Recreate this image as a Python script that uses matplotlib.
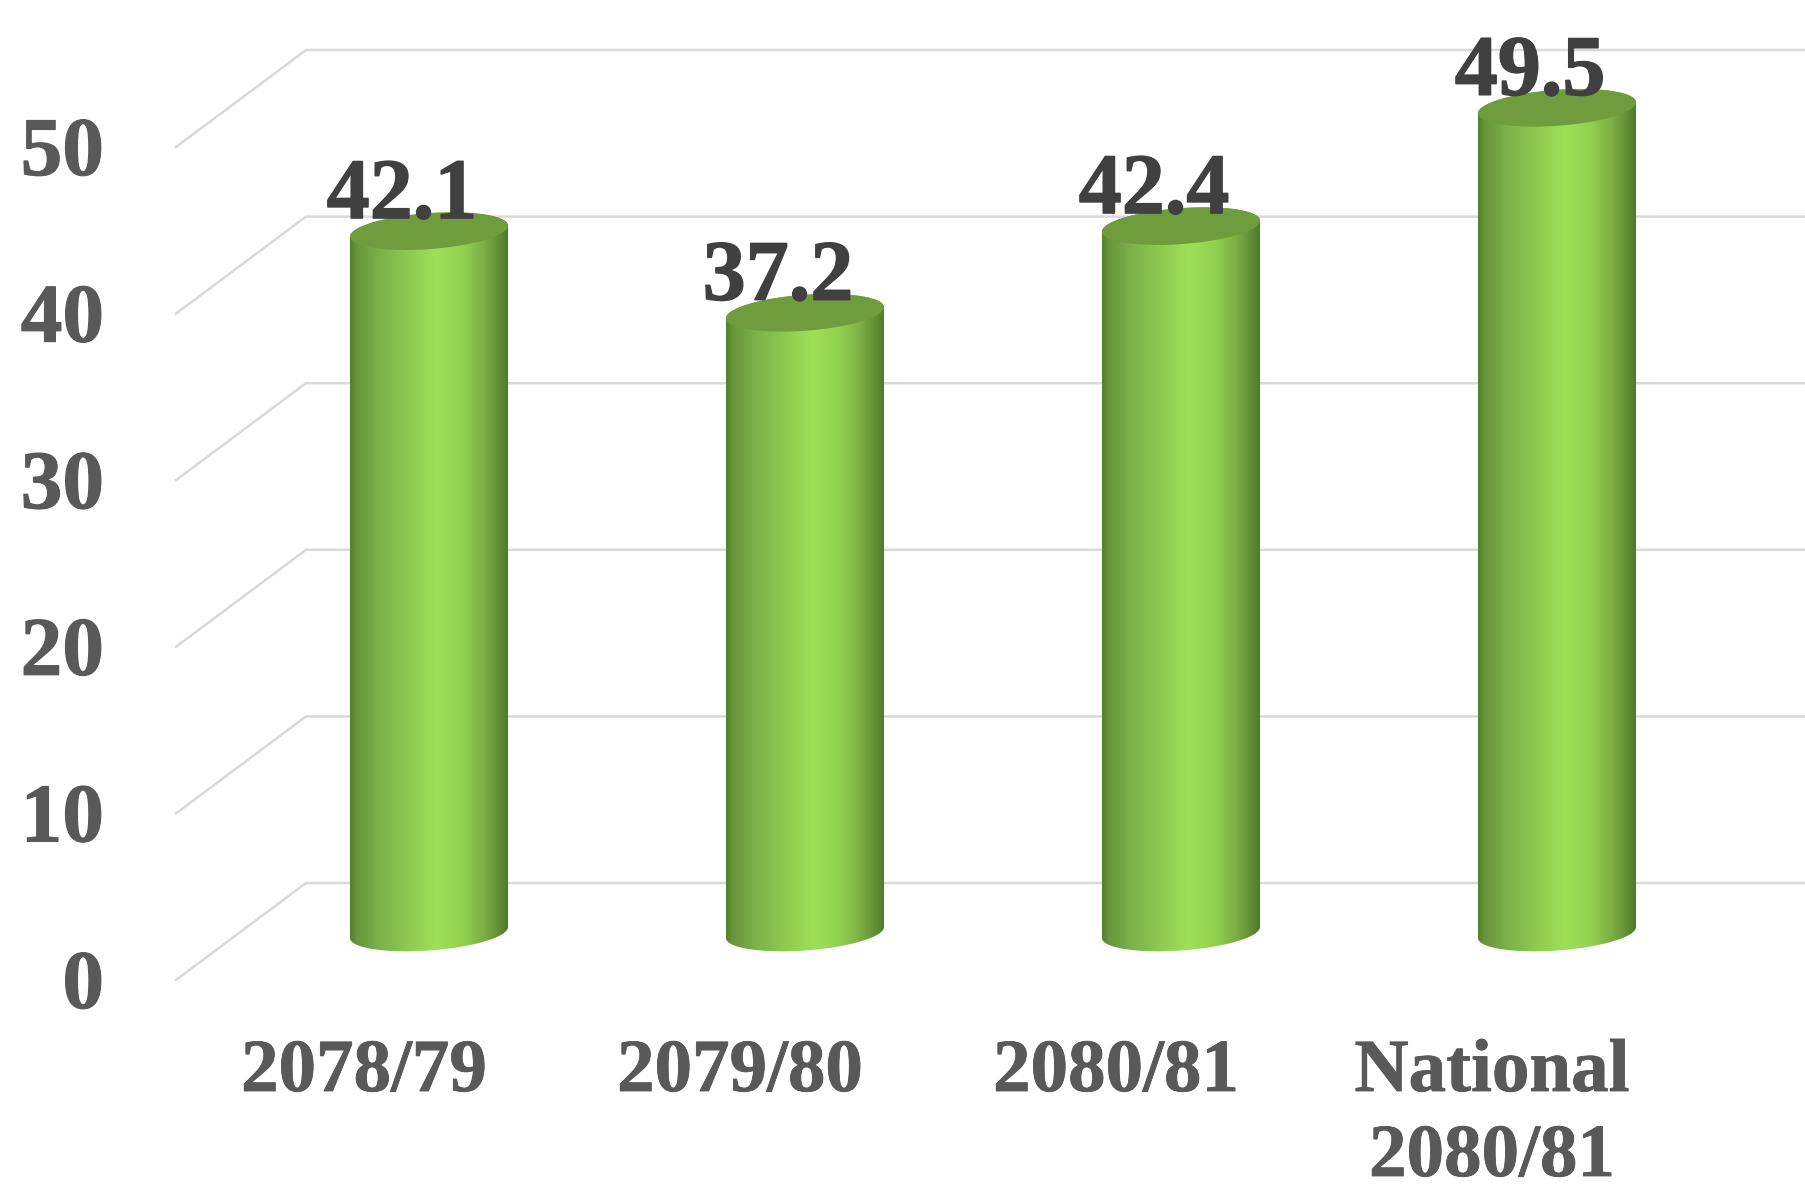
import numpy as np
import matplotlib
matplotlib.use("Agg")
import matplotlib.pyplot as plt
import matplotlib.patheffects as pe
from matplotlib.colors import LinearSegmentedColormap
from matplotlib.patches import Polygon

categories = ["2078/79", "2079/80", "2080/81", "National\n2080/81"]
values = [42.1, 37.2, 42.4, 49.5]
y_ticks = [0, 10, 20, 30, 40, 50]

W, H = 1806, 1189
PX_X = 376.0          # pixels per category
PX_Y = 16.66          # pixels per value unit
X0_PX, Y0_PX = 429, 932.5

plt.rcParams['font.family'] = ['Liberation Serif', 'DejaVu Serif']
fig = plt.figure(figsize=(W / 100, H / 100), dpi=100, facecolor='white')
ax = fig.add_axes([0, 0, 1, 1])
ax.set_xlim(-X0_PX / PX_X, (W - X0_PX) / PX_X)
ax.set_ylim(-(H - Y0_PX) / PX_Y, Y0_PX / PX_Y)
ax.axis('off')

def dx(px):
    return px / PX_X
def dy(px):
    return px / PX_Y

def stroke(w, c):
    return [pe.withStroke(linewidth=w, foreground=c)]

# gridlines: 3-D floor depth
x_front, x_back = dx(176 - X0_PX), dx(306 - X0_PX)
x_right = dx(W - X0_PX)
off_back, off_front = dy(49.5), dy(-47.5)
for v in y_ticks:
    ax.plot([x_front, x_back, x_right], [v + off_front, v + off_back, v + off_back],
            color='#d9d9d9', lw=1.8, solid_joinstyle='miter', zorder=1)
    ax.text(dx(104 - X0_PX), v + off_front - dy(28), str(v), ha='right', va='baseline',
            fontsize=60, fontweight='bold', color='#595959', zorder=5,
            path_effects=stroke(0.8, '#595959'))

cmap = LinearSegmentedColormap.from_list('cyl', [
    (0.00, '#55802c'), (0.04, '#66953a'), (0.18, '#7cb14a'), (0.38, '#8fcb50'),
    (0.55, '#9fe058'), (0.72, '#92d04f'), (0.85, '#7cae45'), (0.95, '#5f8c33'), (1.00, '#4f7a2a')])
grad = np.linspace(0, 1, 256).reshape(1, -1)

hw = dx(79)
b = dy(18)
tilt = dy(5.5)

def ellipse(cx, cy, t):
    return np.column_stack([cx + hw * np.cos(t), cy + tilt * np.cos(t) + b * np.sin(t)])

for i, (cat, v) in enumerate(zip(categories, values)):
    low = ellipse(i, 0, np.linspace(np.pi, 2 * np.pi, 80))
    up = ellipse(i, v, np.linspace(0, np.pi, 80))
    body = np.vstack([low, up])
    im = ax.imshow(grad, extent=[i - hw, i + hw, -dy(30), v + dy(30)], cmap=cmap,
                   aspect='auto', vmin=0, vmax=1, zorder=2, interpolation='bilinear')
    clip = Polygon(body, closed=True, transform=ax.transData, fc='none', ec='none')
    ax.add_patch(clip)
    im.set_clip_path(clip)
    top = ellipse(i, v, np.linspace(0, 2 * np.pi, 160))
    ax.add_patch(Polygon(top, closed=True, fc='#6f9c3c', ec='none', zorder=3))
    ax.text(i - dx(27), v + dy(13), f"{v:.1f}", ha='center', va='baseline',
            fontsize=62, fontweight='bold', color='#404040', zorder=6,
            path_effects=stroke(1.0, '#404040'))
    for k, line in enumerate(cat.split('\n')):
        ax.text(i - dx(65), dy(Y0_PX - 1091 - 85 * k), line, ha='center', va='baseline',
                fontsize=54, fontweight='bold', color='#595959', zorder=5,
                path_effects=stroke(0.6, '#595959'))

ax.set_xlim(-X0_PX / PX_X, (W - X0_PX) / PX_X)
ax.set_ylim(-(H - Y0_PX) / PX_Y, Y0_PX / PX_Y)
fig.savefig('out.png', dpi=100, facecolor='white')
